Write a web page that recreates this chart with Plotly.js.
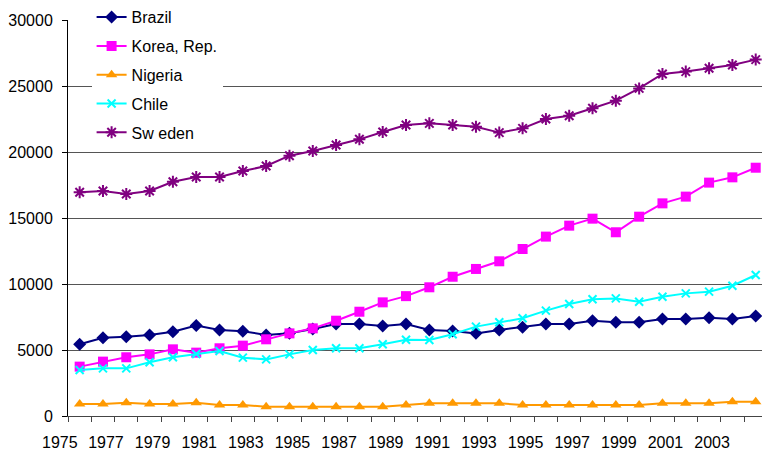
<!DOCTYPE html>
<html><head><meta charset="utf-8">
<script src="https://cdn.plot.ly/plotly-3.0.1.min.js"></script>
<style>html,body{margin:0;padding:0;background:#fff}</style>
</head><body><div id="chart" style="width:762px;height:451px"></div>
<script>
const years = [1976,1977,1978,1979,1980,1981,1982,1983,1984,1985,1986,1987,1988,1989,1990,
               1991,1992,1993,1994,1995,1996,1997,1998,1999,2000,2001,2002,2003,2004,2005];
const brazil = [5430,5930,6010,6140,6390,6850,6520,6420,6140,6260,6590,6970,6970,6820,6970,
                6520,6440,6260,6520,6720,6970,6970,7220,7100,7100,7350,7350,7450,7350,7580];
const korea  = [3740,4120,4450,4670,5050,4800,5130,5330,5810,6260,6640,7220,7900,8610,9080,
                9750,10550,11140,11720,12650,13590,14420,14950,13920,15100,16110,16620,17680,18080,18810];
const nigeria= [910,910,1010,910,910,1010,830,830,710,710,710,710,710,710,830,
                960,960,960,960,830,830,830,830,830,830,960,960,960,1085,1085];
const chile  = [3490,3610,3610,4070,4450,4700,4920,4420,4290,4670,5000,5130,5130,5430,5780,
                5760,6190,6770,7100,7400,7980,8490,8840,8910,8660,9040,9290,9420,9870,10680];
const sweden = [16950,17050,16820,17050,17750,18110,18110,18560,18940,19720,20080,20530,20960,21520,22050,
                22170,22050,21920,21470,21790,22500,22750,23310,23890,24820,25910,26090,26340,26590,27000];
const names = ["Brazil","Korea, Rep.","Nigeria","Chile","Sw eden"];
const colors = ["#000080","#FF00FF","#FF9900","#00FFFF","#800080"];
const yTicks = [0,5000,10000,15000,20000,25000,30000];
const xLabelYears = [1977,1979,1981,1983,1985,1987,1989,1991,1993,1995,1997,1999,2001,2003];
const firstLabel = "1975";

const series = [brazil, korea, nigeria, chile, sweden];
const markers = [
  {symbol:"diamond", size:10},
  {symbol:"square", size:10},
  {symbol:"triangle-up", size:10},
  {symbol:"x-thin-open", size:8, line:{width:2}},
  {symbol:"asterisk-open", size:10, line:{width:2}}
];
const data = series.map((s,i)=>{
  const m = Object.assign({color:colors[i]}, markers[i]);
  if (m.line) m.line.color = colors[i];
  return {x:years, y:s, name:names[i], type:"scatter", mode:"lines+markers",
    line:{color:colors[i], width:2}, marker:m, legendgroup:"g"+i, cliponaxis:false};
});

const layout = {
  width:762, height:451,
  margin:{l:68, r:0, t:20, b:35},
  paper_bgcolor:"#fff", plot_bgcolor:"#fff",
  font:{family:"Liberation Sans, Arial, sans-serif", size:16, color:"#000"},
  showlegend:true,
  legend:{x:0.034, xanchor:"left", y:1.05, yanchor:"top", bgcolor:"#fff", borderwidth:0,
          font:{size:16}, traceorder:"grouped", tracegroupgap:5},
  xaxis:{range:[1975.5, 2005.27], showgrid:false, zeroline:false,
         showline:true, linecolor:"#444", linewidth:1,
         tickmode:"array", tickvals:xLabelYears, ticktext:xLabelYears.map(String),
         ticks:"", ticklabelstandoff:12, ticklabelshift:3,
         minor:{tickmode:"linear", tick0:1975.5, dtick:1, ticks:"outside", ticklen:5, tickcolor:"#444", showgrid:false}},
  yaxis:{range:[0,30000], tickmode:"array", tickvals:yTicks, ticktext:yTicks.map(String),
         showgrid:true, gridcolor:"#555", gridwidth:1, zeroline:false,
         showline:true, linecolor:"#000", linewidth:1,
         ticks:"outside", ticklen:5, tickcolor:"#000", ticklabelstandoff:6},
  annotations:[{text:firstLabel, xref:"paper", yref:"paper", x:(60-68)/694, y:-(442-416)/396,
                xanchor:"center", yanchor:"middle", showarrow:false, font:{size:16, color:"#000"}}]
};
Plotly.newPlot("chart", data, layout, {displayModeBar:false, staticPlot:true});
</script></body></html>
